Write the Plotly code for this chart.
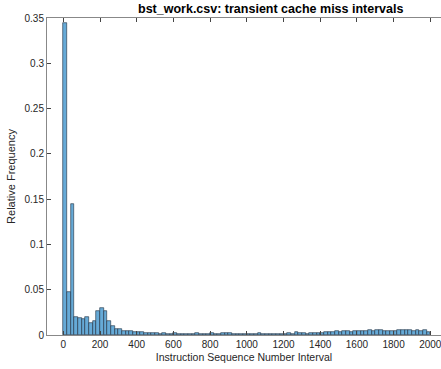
import plotly.graph_objects as go

bin_width = 20
bin_starts = [i * bin_width for i in range(100)]
rel_freq = [
    0.345, 0.047, 0.145, 0.020, 0.019, 0.018, 0.020, 0.013, 0.015, 0.027,
    0.030, 0.027, 0.016, 0.010, 0.007, 0.007, 0.004, 0.0045, 0.0045, 0.0035,
    0.003, 0.0035, 0.0025, 0.0025, 0.002, 0.0025, 0.0015, 0.002, 0.0015, 0.001,
    0.002, 0.0015, 0.0015, 0.001, 0.0015, 0.0015, 0.002, 0.0015, 0.001, 0.0015,
    0.002, 0.0015, 0.0015, 0.002, 0.0025, 0.002, 0.0015, 0.0015, 0.001, 0.0015,
    0.0015, 0.001, 0.0015, 0.002, 0.0015, 0.001, 0.0015, 0.0015, 0.001, 0.0015,
    0.0015, 0.002, 0.0015, 0.003, 0.0025, 0.002, 0.0015, 0.002, 0.0025, 0.002,
    0.0025, 0.003, 0.0035, 0.003, 0.004, 0.0035, 0.004, 0.004, 0.0038, 0.004,
    0.0048, 0.0045, 0.004, 0.005, 0.0048, 0.0058, 0.0056, 0.0045, 0.0045, 0.0042,
    0.0045, 0.005, 0.0052, 0.0052, 0.005, 0.0042, 0.0058, 0.0048, 0.005, 0.0035,
]
x_ticks = [0, 200, 400, 600, 800, 1000, 1200, 1400, 1600, 1800, 2000]
y_ticks = [0, 0.05, 0.1, 0.15, 0.2, 0.25, 0.3, 0.35]
y_tick_text = ["0", "0.05", "0.1", "0.15", "0.2", "0.25", "0.3", "0.35"]

centers = [s + bin_width / 2 for s in bin_starts]

fig = go.Figure(go.Bar(
    x=centers, y=rel_freq, width=bin_width,
    marker=dict(color="rgb(102,170,215)", line=dict(color="rgb(30,45,60)", width=0.6)),
))

W, H = 441, 369
ml, mr, mt, mb = 47, 0, 18, 34
font = "Liberation Sans, Arial, Helvetica, sans-serif"

fig.update_layout(
    width=W, height=H,
    margin=dict(l=ml, r=mr, t=mt, b=mb),
    paper_bgcolor="white", plot_bgcolor="white",
    showlegend=False, bargap=0,
    font=dict(family=font, size=10, color="#262626"),
    xaxis=dict(
        range=[-88.8, 2058.3], tickvals=x_ticks, ticks="inside", ticklen=4,
        tickcolor="#444", showline=True, linecolor="#888", linewidth=1,
        mirror="ticks", showgrid=False, zeroline=False,
        ticklabeloverflow="allow",
        tickfont=dict(size=10, color="#262626"),
        title=dict(text="Instruction Sequence Number Interval", standoff=4,
                   font=dict(size=10.5, color="#262626")),
    ),
    yaxis=dict(
        range=[0, 0.35], tickvals=y_ticks, ticktext=y_tick_text, ticks="inside",
        ticklen=4, tickcolor="#444", showline=True, linecolor="#888", linewidth=1,
        showgrid=False, zeroline=False,
        tickfont=dict(size=10, color="#262626"),
        title=dict(text="Relative Frequency", standoff=6,
                   font=dict(size=11, color="#262626")),
    ),
    annotations=[dict(
        text="<b>bst_work.csv: transient cache miss intervals</b>",
        xref="paper", yref="paper",
        x=(270 - ml) / (W - ml - mr), y=1, xanchor="center", yanchor="bottom",
        yshift=0, showarrow=False, font=dict(size=12.5, color="black"),
    )],
)

fig.write_html("out.html")
